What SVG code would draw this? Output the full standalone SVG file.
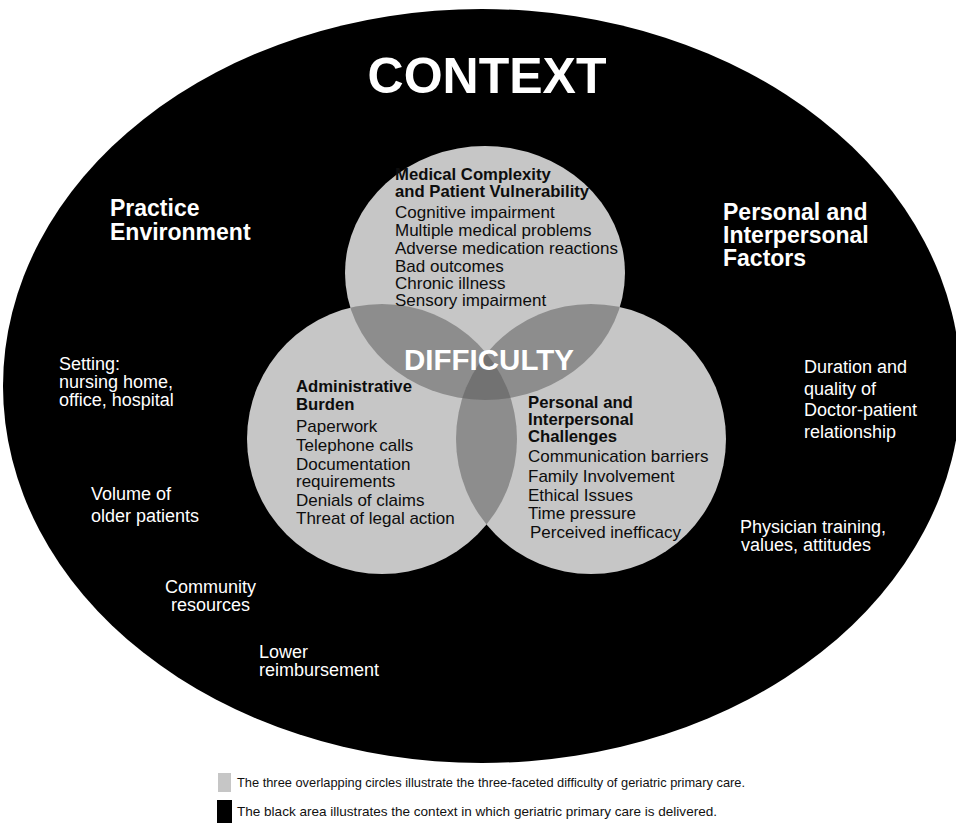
<svg xmlns="http://www.w3.org/2000/svg" width="956" height="834" viewBox="0 0 956 834">
  <style>
    .w { fill: #ffffff; font-family: "Liberation Sans", Arial, sans-serif; }
    .k { fill: #0d0d0d; font-family: "Liberation Sans", Arial, sans-serif; }
    .hd { font-weight: bold; font-size: 23px; }
    .lbl { font-size: 18px; }
    .ch { font-weight: bold; font-size: 16.7px; }
    .ci { font-size: 17px; }
    .leg { font-size: 13px; fill: #111; font-family: "Liberation Sans", Arial, sans-serif; }
    .circ { fill: #c6c6c6; }
    .lens { fill: #8d8d8d; }
    .tri { fill: #727272; }
  </style>
  <defs>
    <clipPath id="clipTop"><ellipse cx="485" cy="273" rx="140" ry="127"/></clipPath>
    <clipPath id="clipLeft"><circle cx="382" cy="439" r="135"/></clipPath>
    <clipPath id="clipRight"><circle cx="591" cy="439" r="135"/></clipPath>
  </defs>
  <rect width="956" height="834" fill="#ffffff"/>

  <g id="context">
    <ellipse cx="482" cy="386" rx="479" ry="377" fill="#000000"/>
    <text class="w" x="487" y="93" text-anchor="middle" font-size="50" font-weight="bold">CONTEXT</text>
  </g>

  <g id="practice-environment">
    <text class="w hd" x="110" y="216">Practice</text>
    <text class="w hd" x="110" y="240">Environment</text>
    <text class="w lbl" x="59" y="370">Setting:</text>
    <text class="w lbl" x="59" y="388">nursing home,</text>
    <text class="w lbl" x="59" y="406">office, hospital</text>
    <text class="w lbl" x="91" y="500">Volume of</text>
    <text class="w lbl" x="91" y="522">older patients</text>
    <text class="w lbl" x="165" y="593">Community</text>
    <text class="w lbl" x="171" y="611">resources</text>
    <text class="w lbl" x="259" y="658">Lower</text>
    <text class="w lbl" x="259" y="676">reimbursement</text>
  </g>

  <g id="personal-factors">
    <text class="w hd" x="723" y="220">Personal and</text>
    <text class="w hd" x="723" y="243">Interpersonal</text>
    <text class="w hd" x="723" y="266">Factors</text>
    <text class="w lbl" x="804" y="373">Duration and</text>
    <text class="w lbl" x="804" y="395">quality of</text>
    <text class="w lbl" x="804" y="416">Doctor-patient</text>
    <text class="w lbl" x="804" y="438">relationship</text>
    <text class="w lbl" x="740" y="533">Physician training,</text>
    <text class="w lbl" x="741" y="551">values, attitudes</text>
  </g>

  <g id="circle-medical">
    <ellipse class="circ" cx="485" cy="273" rx="140" ry="127"/>
  </g>
  <g id="circle-administrative">
    <circle class="circ" cx="382" cy="439" r="135"/>
  </g>
  <g id="circle-personal">
    <circle class="circ" cx="591" cy="439" r="135"/>
  </g>

  <g id="overlaps">
    <g clip-path="url(#clipTop)"><circle class="lens" cx="382" cy="439" r="135"/></g>
    <g clip-path="url(#clipTop)"><circle class="lens" cx="591" cy="439" r="135"/></g>
    <g clip-path="url(#clipLeft)"><circle class="lens" cx="591" cy="439" r="135"/></g>
    <g clip-path="url(#clipTop)"><g clip-path="url(#clipLeft)"><circle class="tri" cx="591" cy="439" r="135"/></g></g>
  </g>

  <g id="medical-text">
    <text class="k ch" x="395" y="180">Medical Complexity</text>
    <text class="k ch" x="395" y="197">and Patient Vulnerability</text>
    <text class="k ci" x="395" y="218">Cognitive impairment</text>
    <text class="k ci" x="395" y="236">Multiple medical problems</text>
    <text class="k ci" x="395" y="254">Adverse medication reactions</text>
    <text class="k ci" x="395" y="272">Bad outcomes</text>
    <text class="k ci" x="395" y="289">Chronic illness</text>
    <text class="k ci" x="395" y="306">Sensory impairment</text>
  </g>

  <g id="difficulty">
    <text class="w" x="489" y="370" text-anchor="middle" font-size="29.5" font-weight="bold">DIFFICULTY</text>
  </g>

  <g id="administrative-text">
    <text class="k ch" x="296" y="392">Administrative</text>
    <text class="k ch" x="296" y="410">Burden</text>
    <text class="k ci" x="296" y="432">Paperwork</text>
    <text class="k ci" x="296" y="451">Telephone calls</text>
    <text class="k ci" x="296" y="470">Documentation</text>
    <text class="k ci" x="296" y="487">requirements</text>
    <text class="k ci" x="296" y="506">Denials of claims</text>
    <text class="k ci" x="296" y="524">Threat of legal action</text>
  </g>

  <g id="personal-text">
    <text class="k ch" x="528" y="408">Personal and</text>
    <text class="k ch" x="528" y="425">Interpersonal</text>
    <text class="k ch" x="528" y="442">Challenges</text>
    <text class="k ci" x="528" y="462">Communication barriers</text>
    <text class="k ci" x="528" y="482">Family Involvement</text>
    <text class="k ci" x="528" y="501">Ethical Issues</text>
    <text class="k ci" x="528" y="519">Time pressure</text>
    <text class="k ci" x="530" y="538">Perceived inefficacy</text>
  </g>

  <g id="legend">
    <rect x="218" y="773" width="13" height="19" fill="#c6c6c6"/>
    <text class="leg" x="237" y="787" textLength="508" lengthAdjust="spacingAndGlyphs">The three overlapping circles illustrate the three-faceted difficulty of geriatric primary care.</text>
    <rect x="217" y="800" width="15" height="23" fill="#000000"/>
    <text class="leg" x="237" y="816" textLength="480" lengthAdjust="spacingAndGlyphs">The black area illustrates the context in which geriatric primary care is delivered.</text>
  </g>
</svg>
